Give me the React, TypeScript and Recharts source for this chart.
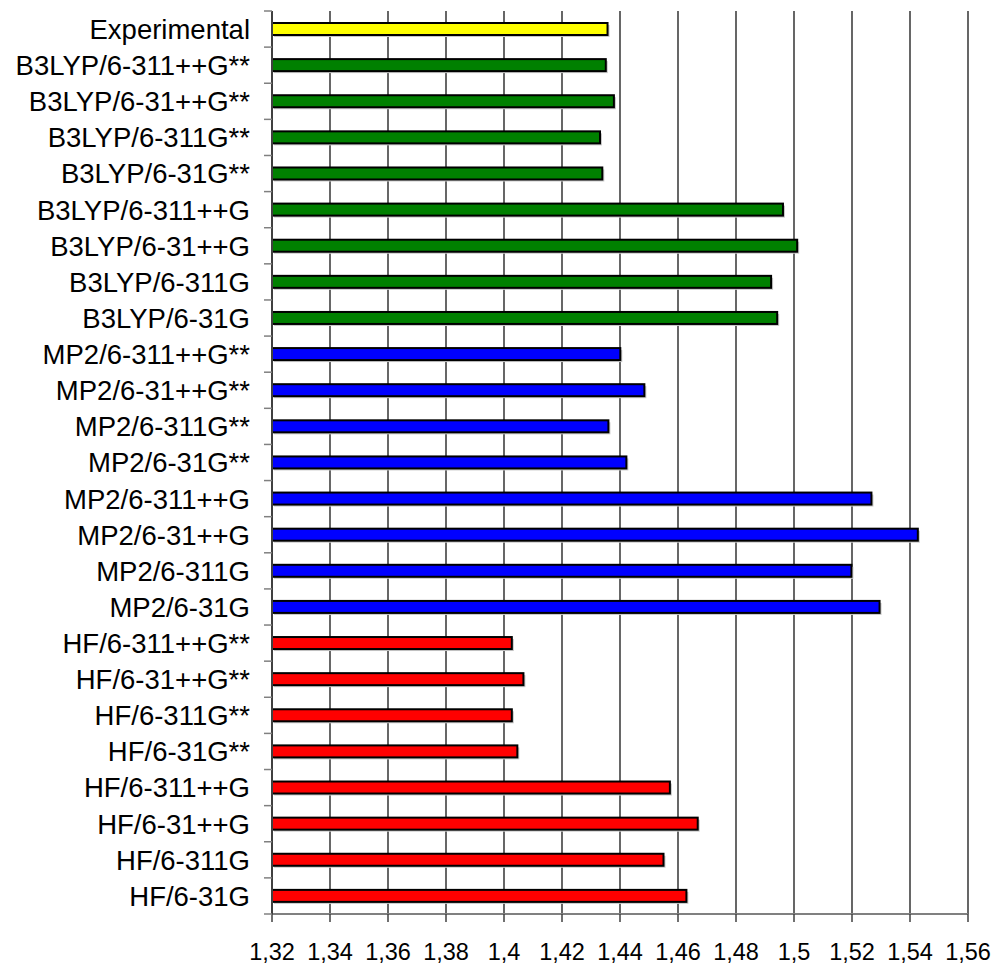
import React from "react";
import { Bar, BarChart, CartesianGrid, Cell, XAxis, YAxis } from "recharts";

const categories = [
  "Experimental",
  "B3LYP/6-311++G**",
  "B3LYP/6-31++G**",
  "B3LYP/6-311G**",
  "B3LYP/6-31G**",
  "B3LYP/6-311++G",
  "B3LYP/6-31++G",
  "B3LYP/6-311G",
  "B3LYP/6-31G",
  "MP2/6-311++G**",
  "MP2/6-31++G**",
  "MP2/6-311G**",
  "MP2/6-31G**",
  "MP2/6-311++G",
  "MP2/6-31++G",
  "MP2/6-311G",
  "MP2/6-31G",
  "HF/6-311++G**",
  "HF/6-31++G**",
  "HF/6-311G**",
  "HF/6-31G**",
  "HF/6-311++G",
  "HF/6-31++G",
  "HF/6-311G",
  "HF/6-31G",
];

const values = [
  1.4357, 1.4351, 1.4379, 1.4331, 1.4339, 1.4962, 1.5011, 1.4921, 1.4942,
  1.4401, 1.4484, 1.436, 1.4422, 1.5267, 1.5427, 1.5198, 1.5295,
  1.4027, 1.4067, 1.4027, 1.4046, 1.4572, 1.4668, 1.455, 1.4629,
];

const methods = [
  "exp",
  "b3lyp", "b3lyp", "b3lyp", "b3lyp", "b3lyp", "b3lyp", "b3lyp", "b3lyp",
  "mp2", "mp2", "mp2", "mp2", "mp2", "mp2", "mp2", "mp2",
  "hf", "hf", "hf", "hf", "hf", "hf", "hf", "hf",
];

const xTicks = [1.32, 1.34, 1.36, 1.38, 1.4, 1.42, 1.44, 1.46, 1.48, 1.5, 1.52, 1.54, 1.56];

const COLORS: Record<string, string> = {
  exp: "#ffff00",
  b3lyp: "#008000",
  mp2: "#0000ff",
  hf: "#ff0000",
};

const data = categories.map((name, i) => ({ name, value: values[i], method: methods[i] }));

const W = 998;
const H = 965;
const TOP = 11;
const X_AXIS_H = 51;
const Y_AXIS_W = 272;
const BAND = (H - X_AXIS_H - TOP) / categories.length;
const FONT = "'Liberation Sans', Arial, sans-serif";

function YTick(props: any) {
  const { x, y, payload, index } = props;
  const axisX = Y_AXIS_W;
  return (
    <g>
      <line x1={axisX - 8} x2={axisX} y1={y - BAND / 2} y2={y - BAND / 2} stroke="#808080" strokeWidth={1.5} />
      {index === categories.length - 1 ? (
        <line x1={axisX - 8} x2={axisX} y1={y + BAND / 2} y2={y + BAND / 2} stroke="#808080" strokeWidth={1.5} />
      ) : null}
      <text x={x} y={y} dy="0.36em" textAnchor="end" fontFamily={FONT} fontSize={27.5} fill="#000">
        {payload.value}
      </text>
    </g>
  );
}

function ShadowBar(props: any) {
  const { x, y, width, height, fill } = props;
  if (width == null || width <= 0) return null;
  return (
    <g>
      <rect x={x + 2} y={y + 2} width={width} height={height} fill="#c8c8c8" />
      <rect x={x} y={y} width={width} height={height} fill={fill} stroke="#000" strokeWidth={2} />
    </g>
  );
}

export default function App() {
  return (
    <div style={{ position: "absolute", left: 0, top: 0, width: W, height: H, background: "#fff" }}>
      <BarChart
        width={W}
        height={H}
        data={data}
        layout="vertical"
        margin={{ top: TOP, right: 30, bottom: 0, left: 0 }}
        barCategoryGap={0}
      >
        <CartesianGrid horizontal={false} vertical stroke="#000" strokeWidth={1.2} />
        <XAxis
          type="number"
          dataKey="value"
          domain={[1.32, 1.56]}
          ticks={xTicks}
          interval={0}
          height={X_AXIS_H}
          tickSize={8}
          tickMargin={21}
          axisLine={{ stroke: "#808080", strokeWidth: 2 }}
          tickLine={{ stroke: "#404040", strokeWidth: 1.5 }}
          tickFormatter={(v: number) => String(v).replace(".", ",")}
          tick={{ fontFamily: FONT, fontSize: 23.5, fill: "#000" }}
        />
        <XAxis
          xAxisId="top"
          orientation="top"
          type="number"
          domain={[1.32, 1.56]}
          height={0}
          tick={false}
          tickLine={false}
          axisLine={{ stroke: "#8c8c8c", strokeWidth: 2 }}
        />
        <YAxis
          type="category"
          dataKey="name"
          width={Y_AXIS_W}
          interval={0}
          tickSize={8}
          tickMargin={14}
          tickLine={false}
          axisLine={{ stroke: "#404040", strokeWidth: 2 }}
          tick={<YTick />}
        />
        <YAxis
          yAxisId="right"
          orientation="right"
          type="category"
          dataKey="name"
          width={0}
          tick={false}
          tickLine={false}
          axisLine={{ stroke: "#a0a0a0", strokeWidth: 2.5 }}
        />
        <Bar dataKey="value" barSize={12} shape={<ShadowBar />} isAnimationActive={false}>
          {data.map((d) => (
            <Cell key={d.name} fill={COLORS[d.method]} />
          ))}
        </Bar>
      </BarChart>
    </div>
  );
}
